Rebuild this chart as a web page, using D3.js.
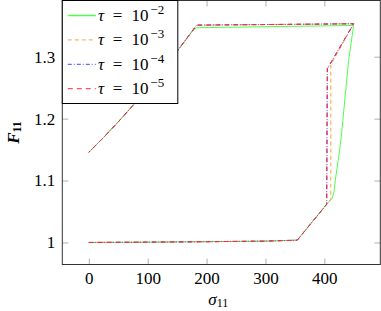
<!DOCTYPE html>
<html>
<head>
<meta charset="utf-8">
<script src="https://cdn.jsdelivr.net/npm/d3@7"></script>
<style>
  body { margin: 0; background: #fff; }
</style>
</head>
<body>
<div id="main_plot"></div>
<script>
// shared branches
let bottomSigma = [0, 100, 200, 300, 354, 404];
let bottomF = [1.0, 1.0005, 1.0012, 1.0022, 1.0037, 1.0618];
let loadSigma = [175, 150, 125, 100, 75, 50, 25, 0];
let loadF = [1.3406, 1.3088, 1.2783, 1.2491, 1.2213, 1.1947, 1.1695, 1.1456];

// tau = 1e-2
let sigma1 = [413, 416.3, 418.6, 426, 429.8, 441.2, 449.7, 183];
let f1 = [1.071, 1.0816, 1.1005, 1.1489, 1.1811, 1.294, 1.3505, 1.3468];
// tau = 1e-3
let sigma2 = [411, 411, 449.7, 183];
let f2 = [1.0699, 1.287, 1.3532, 1.351];
// tau = 1e-4
let sigma3 = [405, 449.7, 183];
let f3 = [1.2806, 1.3532, 1.351];
// tau = 1e-5
let sigma4 = [405, 449.7, 183];
let f4 = [1.2806, 1.3532, 1.351];

let seriesNames = ["-2", "-3", "-4", "-5"];
let seriesColors = ["#4dff4d", "#ffa040", "#4444ff", "#ff2a2a"];
let seriesDash = ["none", "4,3", "4,2,1,2", "5,4"];

let xTicks = [0, 100, 200, 300, 400];
let yTicks = [1, 1.1, 1.2, 1.3];
let yTickLabels = ["1", "1.1", "1.2", "1.3"];

let serif = "'Liberation Serif', 'Times New Roman', 'DejaVu Serif', Times, serif";

function zipPts(xs, ys) {
  return xs.map(function(x, i) { return { s: x, f: ys[i] }; });
}

let margin = { top: 0.5, left: 62.3 },
  width = 318,
  height = 264;

let x = d3.scaleLinear().domain([-45, 495]).range([0, width]);
let y = d3.scaleLinear().domain([0.9644, 1.3908]).range([height, 0]);

let svg = d3.select("#main_plot").append("svg")
  .attr("width", 381)
  .attr("height", 311)
  .attr("font-family", serif)
  .append("g")
  .attr("transform", "translate(" + margin.left + "," + margin.top + ")");

let tickColor = "#b0b0b0";

function styleAxis(g) {
  g.attr("font-family", serif).attr("font-size", 17);
  g.select(".domain").remove();
  g.selectAll(".tick line").attr("stroke", tickColor);
  g.selectAll(".tick text").attr("fill", "#000");
}

svg.append("g")
  .attr("transform", "translate(0," + height + ")")
  .call(d3.axisBottom(x).tickValues(xTicks).tickSizeInner(-6).tickSizeOuter(0).tickPadding(7)
    .tickFormat(d3.format("d")))
  .call(styleAxis);

svg.append("g")
  .call(d3.axisTop(x).tickValues(xTicks).tickSizeInner(-6).tickSizeOuter(0).tickFormat(""))
  .call(styleAxis);

svg.append("g")
  .call(d3.axisLeft(y).tickValues(yTicks).tickSizeInner(-6).tickSizeOuter(0).tickPadding(7)
    .tickFormat(function(d, i) { return yTickLabels[i]; }))
  .call(styleAxis);

svg.append("g")
  .attr("transform", "translate(" + width + ",0)")
  .call(d3.axisRight(y).tickValues(yTicks).tickSizeInner(-6).tickSizeOuter(0).tickFormat(""))
  .call(styleAxis);

let line = d3.line()
  .x(function(d) { return x(d.s); })
  .y(function(d) { return y(d.f); });

let series = [
  zipPts(bottomSigma.concat(sigma1, loadSigma), bottomF.concat(f1, loadF)),
  zipPts(bottomSigma.concat(sigma2, loadSigma), bottomF.concat(f2, loadF)),
  zipPts(bottomSigma.concat(sigma3, loadSigma), bottomF.concat(f3, loadF)),
  zipPts(bottomSigma.concat(sigma4, loadSigma), bottomF.concat(f4, loadF))
];

svg.selectAll(".line")
  .data(series)
  .enter().append("path")
  .attr("class", "line")
  .attr("d", line)
  .attr("fill", "none")
  .attr("stroke", function(d, i) { return seriesColors[i]; })
  .attr("stroke-width", 1)
  .attr("stroke-dasharray", function(d, i) { return seriesDash[i]; });

// frame
svg.append("rect")
  .attr("width", width)
  .attr("height", height)
  .attr("fill", "none")
  .attr("stroke", "#333")
  .attr("stroke-width", 1);

// legend
let legend = svg.append("g");
legend.append("rect")
  .attr("x", 0).attr("y", 0)
  .attr("width", 115.5).attr("height", 103)
  .attr("fill", "#fff")
  .attr("stroke", "#000")
  .attr("stroke-width", 1);

let rows = legend.selectAll(".legend")
  .data(seriesNames)
  .enter().append("g")
  .attr("class", "legend")
  .attr("transform", function(d, i) { return "translate(0," + (20.5 + i * 24.4) + ")"; });

rows.append("line")
  .attr("x1", 5.5).attr("x2", 33.5)
  .attr("y1", -5.5).attr("y2", -5.5)
  .attr("stroke", function(d, i) { return seriesColors[i]; })
  .attr("stroke-width", function(d, i) { return i == 0 ? 1.5 : 1; })
  .attr("stroke-dasharray", function(d, i) { return seriesDash[i]; });

let lt = rows.append("text").attr("font-size", 17);
lt.append("tspan").attr("x", 35.7).attr("font-style", "italic").text("τ");
lt.append("tspan").attr("x", 50.5).text("=");
lt.append("tspan").attr("x", 69.3).text("10");
lt.append("tspan").attr("x", 88).attr("dy", -7).attr("font-size", 13)
  .text(function(d) { return d.replace("-", "−"); });

// axis labels
let xl = svg.append("text")
  .attr("x", 146)
  .attr("y", 304)
  .attr("font-size", 17);
xl.append("tspan").attr("font-style", "italic").text("σ");
xl.append("tspan").attr("dy", 2).attr("font-size", 12).text("11");

let yl = svg.append("text")
  .attr("transform", "translate(" + (18.5 - margin.left) + "," + 132 + ") rotate(-90)")
  .attr("text-anchor", "middle")
  .attr("font-size", 17);
yl.append("tspan").attr("font-style", "italic").attr("font-weight", "bold").text("F");
yl.append("tspan").attr("dy", 2).attr("font-size", 12).attr("font-weight", "bold").text("11");
</script>
</body>
</html>
